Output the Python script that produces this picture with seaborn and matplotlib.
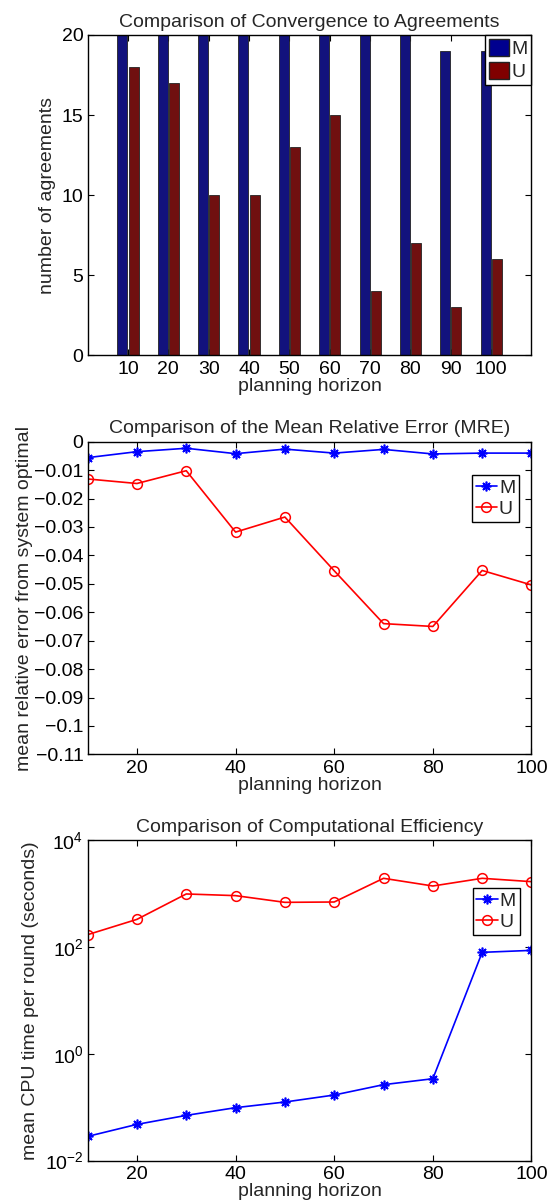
import numpy as np
import pandas as pd
import matplotlib
matplotlib.use("Agg")
import matplotlib.pyplot as plt
from matplotlib.patches import Patch
from matplotlib.ticker import FuncFormatter, NullLocator
import seaborn as sns

# données
horizon = [10, 20, 30, 40, 50, 60, 70, 80, 90, 100]
methods = ["M", "U"]

agree_m = [20, 20, 20, 20, 20, 20, 20, 20, 19, 19]
agree_u = [18, 17, 10, 10, 13, 15, 4, 7, 3, 6]

mre_m = [-0.0056, -0.0035, -0.0023, -0.0042, -0.0026, -0.0040, -0.0027, -0.0043, -0.0040, -0.0040]
mre_u = [-0.0131, -0.0147, -0.0102, -0.0318, -0.0265, -0.0454, -0.0640, -0.0650, -0.0453, -0.0504]

cpu_m = [0.0284, 0.0477, 0.0703, 0.098, 0.125, 0.169, 0.264, 0.341, 79, 86]
cpu_u = [169, 327, 977, 909, 681, 691, 1918, 1377, 1918, 1660]

bar_colors = {"M": "#00008F", "U": "#800000"}
FS = 14

sns.set_style("ticks")
plt.rcParams['font.family'] = ['Liberation Sans', 'DejaVu Sans']
plt.rcParams['font.size'] = FS
plt.rcParams['axes.linewidth'] = 1.0
plt.rcParams['xtick.direction'] = 'in'
plt.rcParams['ytick.direction'] = 'in'
plt.rcParams['xtick.top'] = True
plt.rcParams['ytick.right'] = True
plt.rcParams['xtick.major.size'] = 4
plt.rcParams['ytick.major.size'] = 4
plt.rcParams['xtick.major.pad'] = 4
plt.rcParams['ytick.major.pad'] = 3
plt.rcParams['xtick.color'] = 'black'
plt.rcParams['ytick.color'] = 'black'
plt.rcParams['axes.edgecolor'] = 'black'
plt.rcParams['mathtext.fontset'] = 'custom'
plt.rcParams['mathtext.rm'] = 'Liberation Sans'

fig = plt.figure(figsize=(5.58, 12.01), dpi=100)
left, width = 0.157, 0.7955
ax1 = fig.add_axes([left, 0.7042, width, 0.2667])
ax2 = fig.add_axes([left, 0.3719, width, 0.2603])
ax3 = fig.add_axes([left, 0.0336, width, 0.2670])

leg_kw = dict(fancybox=False, framealpha=1, edgecolor='black', borderaxespad=0,
              handletextpad=0.1, borderpad=0.2, labelspacing=0.2, fontsize=FS)

asterisk = (8, 2, 0)


def fmt_mre(v, pos):
    v = round(v, 2)
    if v == 0:
        return "0"
    return ("%g" % v).replace("-", "\u2212")


# 1) barres groupées
df_bar = pd.DataFrame({
    "horizon": [str(h) for h in horizon] * 2,
    "method": ["M"] * len(horizon) + ["U"] * len(horizon),
    "count": agree_m + agree_u,
})
sns.barplot(data=df_bar, x="horizon", y="count", hue="method", palette=bar_colors,
            width=0.55, gap=0.1, edgecolor="#222222", linewidth=0.6,
            legend=False, ax=ax1)
ax1.set_xlim(-1, 10)
ax1.set_ylim(0, 20)
ax1.set_yticks([0, 5, 10, 15, 20])
ax1.set_title("Comparison of Convergence to Agreements", fontsize=FS)
ax1.set_xlabel("planning horizon", labelpad=0)
ax1.set_ylabel("number of agreements")
handles = [Patch(facecolor=bar_colors[m], edgecolor='#222222') for m in methods]
ax1.legend(handles, methods, loc='upper right', bbox_to_anchor=(1, 1),
           handlelength=1.05, handleheight=1.0, **leg_kw)

# 2) erreur relative moyenne
sns.lineplot(x=horizon, y=mre_m, color='blue', marker=asterisk, markersize=7,
             markeredgecolor='blue', markeredgewidth=1.2, linewidth=1.2, label='M', ax=ax2)
sns.lineplot(x=horizon, y=mre_u, color='red', marker='o', markersize=7,
             markerfacecolor='none', markeredgecolor='red', markeredgewidth=1.1,
             linewidth=1.2, label='U', ax=ax2)
ax2.set_xlim(10, 100)
ax2.set_ylim(-0.11, 0)
ax2.set_xticks([20, 40, 60, 80, 100])
ax2.set_yticks(np.round(np.arange(-0.11, 0.001, 0.01), 2))
ax2.yaxis.set_major_formatter(FuncFormatter(fmt_mre))
ax2.set_title("Comparison of the Mean Relative Error (MRE)", fontsize=FS)
ax2.set_xlabel("planning horizon", labelpad=0)
ax2.set_ylabel("mean relative error from system optimal", labelpad=1)
ax2.legend(loc='upper right', bbox_to_anchor=(0.972, 0.893),
           handlelength=1.1, **leg_kw)

# 3) temps CPU (échelle log)
sns.lineplot(x=horizon, y=cpu_m, color='blue', marker=asterisk, markersize=7,
             markeredgecolor='blue', markeredgewidth=1.2, linewidth=1.2, label='M', ax=ax3)
sns.lineplot(x=horizon, y=cpu_u, color='red', marker='o', markersize=7,
             markerfacecolor='none', markeredgecolor='red', markeredgewidth=1.1,
             linewidth=1.2, label='U', ax=ax3)
ax3.set_yscale('log')
ax3.set_xlim(10, 100)
ax3.set_ylim(1e-2, 1e4)
ax3.set_xticks([20, 40, 60, 80, 100])
ax3.set_yticks([1e-2, 1e0, 1e2, 1e4])
ax3.yaxis.set_minor_locator(NullLocator())
ax3.set_title("Comparison of Computational Efficiency", fontsize=FS)
ax3.set_xlabel("planning horizon", labelpad=0)
ax3.set_ylabel("mean CPU time per round (seconds)")
ax3.legend(loc='upper right', bbox_to_anchor=(0.974, 0.850),
           handlelength=1.1, **leg_kw)

for ax in (ax1, ax2, ax3):
    ax.tick_params(which='both', labelsize=FS)
    for s in ax.spines.values():
        s.set_visible(True)
        s.set_color('black')

fig.savefig("out.png", dpi=100)
